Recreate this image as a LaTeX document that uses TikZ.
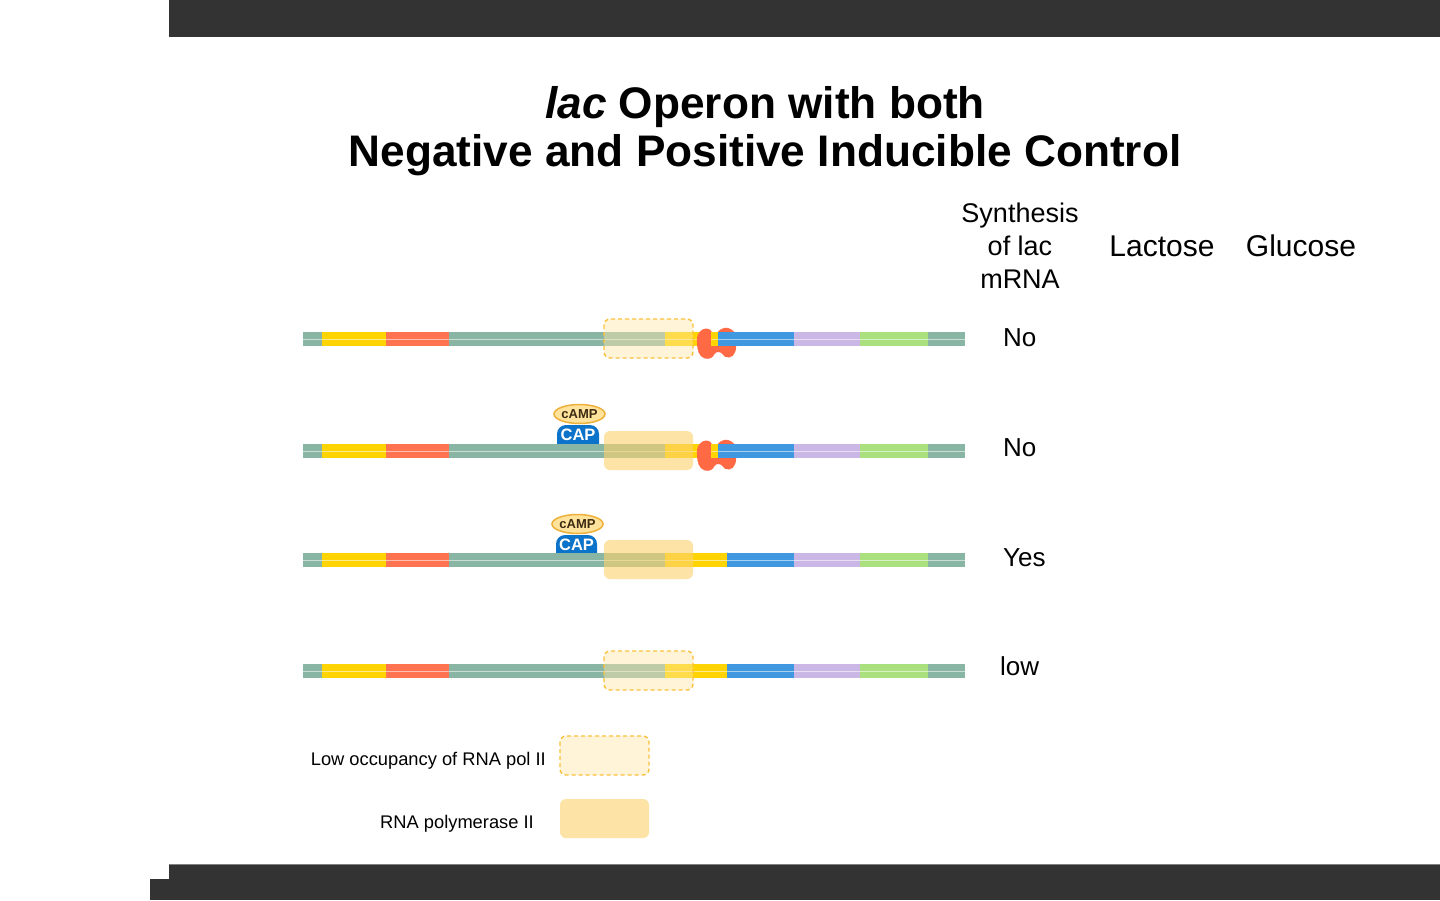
\documentclass[tikz,border=0pt]{standalone}
\usepackage{fontspec}
\setmainfont{Liberation Sans}
\usetikzlibrary{shapes.geometric}
\definecolor{dteal}{HTML}{88B5A4}
\definecolor{dyel}{HTML}{FFD400}
\definecolor{dred}{HTML}{FF7350}
\definecolor{dblue}{HTML}{3F98E0}
\definecolor{dlav}{HTML}{CAB7E6}
\definecolor{dgreen}{HTML}{AAE07E}
\definecolor{rep}{HTML}{FF6A45}
\definecolor{capblue}{HTML}{0B73C9}
\definecolor{campfill}{HTML}{FFE39C}
\definecolor{campline}{HTML}{EDB03A}
\definecolor{camptext}{HTML}{3B2B12}
\definecolor{polfill}{HTML}{FCD26E}
\definecolor{lowfill}{HTML}{FFE6AA}
\definecolor{lowline}{HTML}{F9C23C}
\definecolor{barcol}{HTML}{333333}
\newcommand{\dnarow}[1]{%
  \fill[dteal] (303,-6.8) rectangle (322,6.8);
  \fill[dyel] (322,-6.8) rectangle (386,6.8);
  \fill[dred] (386,-6.8) rectangle (449,6.8);
  \fill[dteal] (449,-6.8) rectangle (665,6.8);
  \fill[dyel] (665,-6.8) rectangle (#1,6.8);
  \fill[dblue] (#1,-6.8) rectangle (794,6.8);
  \fill[dlav] (794,-6.8) rectangle (860,6.8);
  \fill[dgreen] (860,-6.8) rectangle (928,6.8);
  \fill[dteal] (928,-6.8) rectangle (965,6.8);
  \draw[white, opacity=0.55, line width=1pt] (303,0) -- (965,0);
}
\newcommand{\repressor}{%
  \fill[rep] (697,4) .. controls (696,-5) and (701,-10.5) .. (706,-10.5)
    .. controls (710,-10.5) and (712,-8) .. (713,-5)
    -- (717,-5)
    .. controls (718,-9) and (723,-12) .. (728,-11)
    .. controls (733,-10) and (737,-5) .. (736,2)
    .. controls (737,10) and (735,18) .. (729,18.5)
    .. controls (726,19) and (723,17) .. (722,14.5)
    .. controls (720,12.5) and (716,12.5) .. (714.5,15)
    .. controls (713,19) and (709,20.5) .. (705,19.5)
    .. controls (699,18) and (697,11) .. (697,4) -- cycle;
  \fill[dyel] (711,-6.8) rectangle (718,6.8);
  \fill[dblue] (718,-6.8) rectangle (737,6.8);
  \draw[white, opacity=0.55, line width=1pt] (711,0) -- (737,0);
}
\begin{document}
\begin{tikzpicture}[x=1pt,y=-1pt,
  lbl/.style={inner sep=0pt, anchor=base},
  hdr/.style={lbl, font=\fontsize{27}{32}\selectfont},
  hdrb/.style={lbl, font=\fontsize{30}{36}\selectfont},
  rowlbl/.style={inner sep=0pt, anchor=base west, font=\fontsize{26}{31}\selectfont},
  leglbl/.style={inner sep=0pt, anchor=base east, font=\fontsize{18.3}{22}\selectfont},
  polbox/.style={fill=polfill, fill opacity=0.62, rounded corners=6pt},
  lowbox/.style={fill=lowfill, fill opacity=0.45, draw=lowline, line width=1.4pt,
                 dash pattern=on 4pt off 3pt, rounded corners=6pt},
  captext/.style={inner sep=0pt, text=white, font=\bfseries\fontsize{16.5}{18}\selectfont},
  camp/.style={ellipse, draw=campline, line width=1.5pt, fill=campfill, inner sep=0pt,
               minimum width=44pt, minimum height=19pt, text=camptext,
               font=\bfseries\fontsize{13}{14}\selectfont}
]
\useasboundingbox (0,0) rectangle (1440,900);
\fill[white] (0,0) rectangle (1440,900);
% frame bars
\fill[barcol] (169,0) rectangle (1440,37);
\fill[barcol] (169,864) rectangle (1440,900);
\fill[barcol] (150,879) rectangle (169,900);
\draw[gray, line width=1pt] (169,864.5) -- (1440,864.5);

% title
\node[lbl, font=\bfseries\fontsize{44.2}{52}\selectfont] (title1) at (765,118) {\textit{lac} Operon with both};
\node[lbl, font=\bfseries\fontsize{44.2}{52}\selectfont] (title2) at (765,166) {Negative and Positive Inducible Control};

% headers
\node[hdr] (synth1) at (1020,222) {Synthesis};
\node[hdr] (synth2) at (1020,255) {of lac};
\node[hdr] (synth3) at (1020,288) {mRNA};
\node[hdrb] (lactose) at (1162,256) {Lactose};
\node[hdrb] (glucose) at (1301,256) {Glucose};

% row 1
\begin{scope}[shift={(0,339)}]
  \dnarow{718}
  \draw[lowbox] (604,-20) rectangle (693,19);
  \repressor
\end{scope}
% row 2
\begin{scope}[shift={(0,451)}]
  \fill[capblue, rounded corners=9pt] (557,-26) rectangle (599,2);
  \dnarow{718}
  \fill[polbox] (604,-20) rectangle (693,19);
  \repressor
\end{scope}
\node[captext] (cap2) at (578,435) {CAP};
\node[camp] (camp2) at (579.5,414) {cAMP};
% row 3
\begin{scope}[shift={(0,560)}]
  \fill[capblue, rounded corners=9pt] (556,-25) rectangle (597,2);
  \dnarow{727}
  \fill[polbox] (604,-20) rectangle (693,19);
\end{scope}
\node[captext] (cap3) at (576.5,545) {CAP};
\node[camp] (camp3) at (577.5,524) {cAMP};
% row 4
\begin{scope}[shift={(0,671)}]
  \dnarow{727}
  \draw[lowbox] (604,-20) rectangle (693,19);
\end{scope}

% row labels
\node[rowlbl] (r1) at (1003,346) {No};
\node[rowlbl] (r2) at (1003,456) {No};
\node[rowlbl] (r3) at (1003,566) {Yes};
\node[rowlbl] (r4) at (1000,675) {low};

% legend
\node[leglbl] (leg1) at (546,765) {Low occupancy of RNA pol II};
\draw[lowbox] (560,736) rectangle (649,775);
\node[leglbl] (leg2) at (534,828) {RNA polymerase II};
\fill[polbox] (560,799) rectangle (649,838);
\end{tikzpicture}
\end{document}
